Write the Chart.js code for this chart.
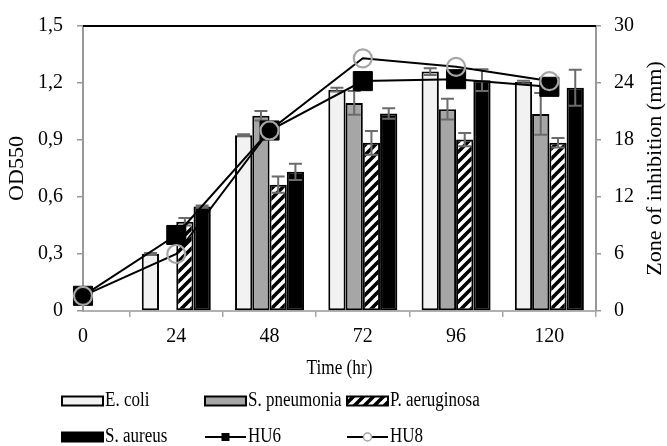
<!DOCTYPE html>
<html><head><meta charset="utf-8">
<script src="https://cdn.jsdelivr.net/npm/chart.js@4.4.1/dist/chart.umd.min.js"></script>
<style>html,body{margin:0;padding:0;background:#fff;}#wrap{width:667px;height:446px;position:relative;}</style>
</head><body><div id="wrap"><canvas id="c" width="667" height="446"></canvas></div>
<script>
const timeCategories = [0, 24, 48, 72, 96, 120];
const timeTickLabels = ['0', '24', '48', '72', '96', '120'];
const odTicks = [0, 0.3, 0.6, 0.9, 1.2, 1.5];
const odTickLabels = ['0', '0,3', '0,6', '0,9', '1,2', '1,5'];
const zoneTicks = [0, 6, 12, 18, 24, 30];
const zoneTickLabels = ['0', '6', '12', '18', '24', '30'];

const barTimes = [24, 48, 72, 96, 120];
const eColi = [6.0, 18.5, 23.3, 25.2, 24.1];
const eColiErr = [0.1, 0.1, 0.2, 0.35, 0.15];
const sPneumonia = [0, 20.55, 21.9, 21.25, 20.75];
const sPneumoniaErr = [0, 0.5, 1.25, 1.1, 2.2];
const pAeruginosa = [9.4, 13.3, 17.7, 18.05, 17.7];
const pAeruginosaErr = [0.4, 0.85, 1.25, 0.7, 0.5];
const sAureus = [11.0, 14.65, 20.8, 24.3, 23.5];
const sAureusErr = [0.1, 0.85, 0.55, 1.15, 1.9];

const hu6 = [0.08, 0.40, 0.95, 1.21, 1.22, 1.18];
const hu8 = [0.08, 0.30, 0.95, 1.33, 1.285, 1.21];

const FAMILY = '"Liberation Serif", "Times New Roman", serif';
const canvas = document.getElementById('c');
const ctx0 = canvas.getContext('2d');

function makeHatch() {
  const s = 10;
  const p = document.createElement('canvas'); p.width = s; p.height = s;
  const g = p.getContext('2d');
  g.fillStyle = '#fff'; g.fillRect(0, 0, s, s);
  g.strokeStyle = '#000'; g.lineWidth = 3.6; g.beginPath();
  g.moveTo(-s/2, s/2); g.lineTo(s/2, -s/2);
  g.moveTo(0, s); g.lineTo(s, 0);
  g.moveTo(s/2, s*1.5); g.lineTo(s*1.5, s/2);
  g.stroke();
  return ctx0.createPattern(p, 'repeat');
}
const hatch = makeHatch();

function pts(xs, ys) { return xs.map((x, i) => ({ x: x, y: ys[i] })); }

function barDs(label, vals, errs, bg) {
  return { type: 'bar', label: label, data: pts(barTimes, vals), errors: errs, yAxisID: 'yR', xAxisID: 'x',
    backgroundColor: bg, borderColor: '#000', borderWidth: 2, borderSkipped: false,
    categoryPercentage: 0.74, barPercentage: 1.0, order: 2 };
}

const datasets = [
  barDs('E. coli', eColi, eColiErr, '#f2f2f2'),
  barDs('S. pneumonia', sPneumonia, sPneumoniaErr, '#a6a6a6'),
  barDs('P. aeruginosa', pAeruginosa, pAeruginosaErr, hatch),
  barDs('S. aureus', sAureus, sAureusErr, '#000'),
  { type: 'line', label: 'HU6', data: pts(timeCategories, hu6), yAxisID: 'y', xAxisID: 'x',
    borderColor: '#000', borderWidth: 2, pointStyle: 'rect', pointRadius: 13.5,
    pointBackgroundColor: '#000', pointBorderColor: '#000', pointBorderWidth: 1,
    tension: 0, clip: false, order: 1 },
  { type: 'line', label: 'HU8', data: pts(timeCategories, hu8), yAxisID: 'y', xAxisID: 'x',
    borderColor: '#000', borderWidth: 2, pointStyle: 'circle', pointRadius: 9,
    pointBackgroundColor: 'rgba(0,0,0,0)', pointBorderColor: '#a6a6a6', pointBorderWidth: 2.2,
    tension: 0, clip: false, order: 0 }
];

const errorBarPlugin = {
  id: 'errorBars',
  afterDatasetDraw(chart, args) {
    const ds = chart.data.datasets[args.index];
    if (!ds.errors) return;
    const yS = chart.scales[ds.yAxisID];
    const ctx = chart.ctx;
    ctx.save();
    ctx.strokeStyle = '#6b6b6b'; ctx.lineWidth = 2;
    args.meta.data.forEach((bar, i) => {
      const v = ds.data[i].y, e = ds.errors[i];
      if (!e) return;
      const x = bar.x, yt = yS.getPixelForValue(v + e), yb = yS.getPixelForValue(v - e);
      ctx.beginPath();
      ctx.moveTo(x, yt); ctx.lineTo(x, yb);
      ctx.moveTo(x - 6.5, yt); ctx.lineTo(x + 6.5, yt);
      ctx.moveTo(x - 6.5, yb); ctx.lineTo(x + 6.5, yb);
      ctx.stroke();
    });
    ctx.restore();
  }
};

function squeezedText(ctx, txt, x, y, sx) {
  ctx.save(); ctx.translate(x, y); ctx.scale(sx, 1); ctx.fillText(txt, 0, 0); ctx.restore();
}

const decoPlugin = {
  id: 'deco',
  afterDraw(chart) {
    const ctx = chart.ctx, a = chart.chartArea;
    ctx.save();
    ctx.strokeStyle = '#000'; ctx.lineWidth = 2;
    ctx.beginPath(); ctx.moveTo(a.left, a.top); ctx.lineTo(a.right, a.top); ctx.stroke();
    ctx.fillStyle = '#000'; ctx.textAlign = 'center'; ctx.textBaseline = 'middle';
    const cy = (a.top + a.bottom) / 2;
    ctx.font = '22px ' + FAMILY;
    ctx.save(); ctx.translate(17, cy); ctx.rotate(-Math.PI / 2); ctx.fillText('OD550', 0, 0); ctx.restore();
    ctx.save(); ctx.translate(655, cy); ctx.rotate(-Math.PI / 2); ctx.fillText('Zone of inhibition (mm)', 0, 0); ctx.restore();
    ctx.font = '20px ' + FAMILY;
    squeezedText(ctx, 'Time (hr)', (a.left + a.right) / 2, 369, 0.86);
    const cols = [62, 205, 347];
    const rows = [401, 437];
    const boxW = 41, boxH = 9;
    ctx.textAlign = 'left';
    chart.data.datasets.forEach((ds, i) => {
      const x = cols[i % 3], y = rows[Math.floor(i / 3)];
      if (ds.type === 'bar') {
        ctx.fillStyle = ds.backgroundColor;
        ctx.fillRect(x, y - boxH / 2, boxW, boxH);
        ctx.strokeStyle = '#000'; ctx.lineWidth = 2;
        ctx.strokeRect(x, y - boxH / 2, boxW, boxH);
      } else {
        ctx.strokeStyle = '#000'; ctx.lineWidth = 2;
        ctx.beginPath(); ctx.moveTo(x, y); ctx.lineTo(x + boxW, y); ctx.stroke();
        const mx = x + boxW / 2;
        if (ds.pointStyle === 'rect') {
          ctx.fillStyle = '#000'; ctx.fillRect(mx - 4, y - 4, 8, 8);
        } else {
          ctx.fillStyle = '#fff'; ctx.strokeStyle = ds.pointBorderColor; ctx.lineWidth = 1.5;
          ctx.beginPath(); ctx.arc(mx, y, 4, 0, Math.PI * 2); ctx.fill(); ctx.stroke();
        }
      }
      ctx.fillStyle = '#000';
      squeezedText(ctx, ds.label, x + boxW + 2, y, 0.85);
    });
    ctx.restore();
  }
};

const tickFont = { family: FAMILY, size: 20 };
new Chart(canvas, {
  data: { datasets: datasets },
  options: {
    responsive: false, animation: false, devicePixelRatio: 1,
    layout: { padding: { top: 22, left: 0, right: 0, bottom: 0 } },
    plugins: { legend: { display: false }, tooltip: { enabled: false }, title: { display: false } },
    scales: {
      x: {
        type: 'linear', position: 'bottom', min: 0, max: 132, offset: false,
        afterBuildTicks: s => { s.ticks = timeCategories.map(v => ({ value: v })); },
        afterFit: s => { s.height = 135; },
        ticks: { font: tickFont, color: '#000', padding: 8, maxRotation: 0,
          callback: (v) => timeTickLabels[timeCategories.indexOf(v)] },
        grid: { drawOnChartArea: false, drawTicks: true, tickLength: 6, color: '#a6a6a6', lineWidth: 1.5 },
        border: { display: true, color: '#b0b0b0', width: 2 }
      },
      y: {
        type: 'linear', position: 'left', min: 0, max: 1.5,
        afterBuildTicks: s => { s.ticks = odTicks.map(v => ({ value: v })); },
        afterFit: s => { s.width = 83; },
        ticks: { font: tickFont, color: '#000', padding: 14,
          callback: (v) => odTickLabels[odTicks.findIndex(t => Math.abs(t - v) < 1e-9)] },
        grid: { drawOnChartArea: false, drawTicks: true, tickLength: 6, color: '#999', lineWidth: 1.5 },
        border: { display: true, color: '#999', width: 2 }
      },
      yR: {
        type: 'linear', position: 'right', min: 0, max: 30,
        afterBuildTicks: s => { s.ticks = zoneTicks.map(v => ({ value: v })); },
        afterFit: s => { s.width = 71; },
        ticks: { font: tickFont, color: '#000', padding: 13,
          callback: (v) => zoneTickLabels[zoneTicks.indexOf(v)] },
        grid: { drawOnChartArea: false, drawTicks: true, tickLength: 5, color: '#999', lineWidth: 1.5 },
        border: { display: true, color: '#999', width: 2 }
      }
    }
  },
  plugins: [errorBarPlugin, decoPlugin]
});
</script></body></html>
